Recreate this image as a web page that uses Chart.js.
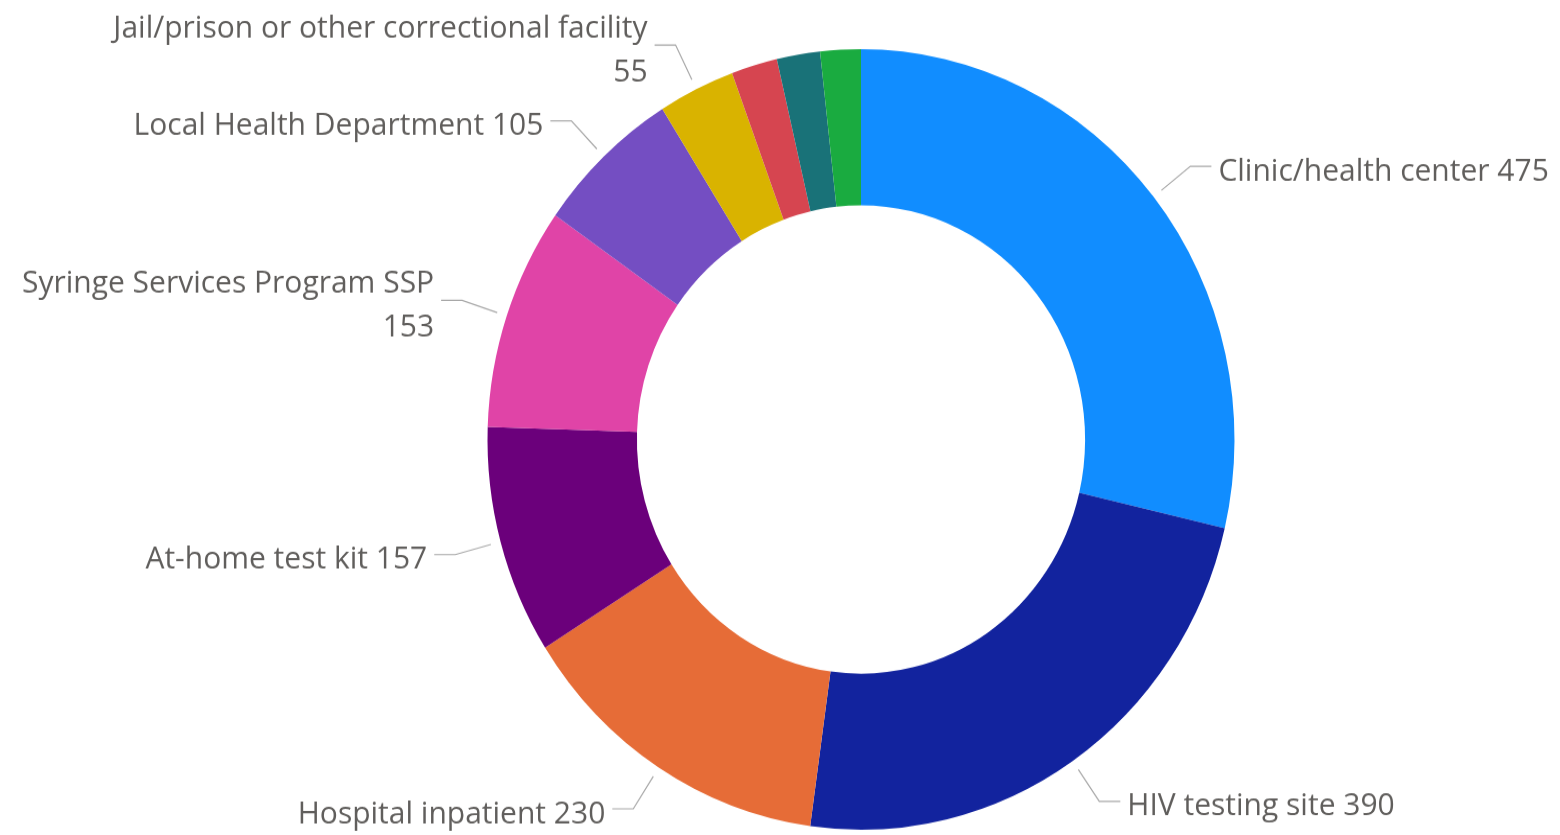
<!DOCTYPE html>
<html>
<head>
<meta charset="utf-8">
<script src="https://cdn.jsdelivr.net/npm/chart.js@4"></script>
<style>
  html, body { margin: 0; padding: 0; background: #fff; overflow: hidden; }
  #wrap { width: 1560px; height: 835px; }
  #donut { display: block; transform: scaleY(1.045); transform-origin: 0 0; }
</style>
</head>
<body>
<div id="wrap"><canvas id="donut" width="1560" height="799"></canvas></div>
<script>
const categories = [
  "Clinic/health center",
  "HIV testing site",
  "Hospital inpatient",
  "At-home test kit",
  "Syringe Services Program SSP",
  "Local Health Department",
  "Jail/prison or other correctional facility",
  "Emergency department",
  "Other",
  "Unknown"
];
const counts = [475, 390, 230, 157, 153, 105, 55, 33, 31, 29];
const sliceColors = [
  "#118DFF", "#12239E", "#E66C37", "#6B007B", "#E044A7",
  "#744EC2", "#D9B300", "#D64550", "#197278", "#1AAB40"
];

// Leader line + label plugin (Power BI style outside labels)
const outsideLabels = {
  id: "outsideLabels",
  afterDraw(chart) {
    const ctx = chart.ctx;
    const meta = chart.getDatasetMeta(0);
    const font = "30px 'Open Sans', 'Segoe UI', sans-serif";
    const lineH = 42;
    const maxW = 460;
    ctx.save();
    ctx.font = font;
    meta.data.forEach((arc, i) => {
      const value = counts[i];
      if (value < 50) return;
      const p = arc.getProps(["x", "y", "startAngle", "endAngle", "outerRadius"], true);
      const mid = (p.startAngle + p.endAngle) / 2;
      const cos = Math.cos(mid), sin = Math.sin(mid);
      const r1 = p.outerRadius + 10;
      const r2 = p.outerRadius + 47;
      const x1 = p.x + cos * r1, y1 = p.y + sin * r1;
      const x2 = p.x + cos * r2, y2 = p.y + sin * r2;
      const right = cos >= 0;
      const x3 = x2 + (right ? 21 : -21);

      ctx.strokeStyle = "#A8A8A8";
      ctx.lineWidth = 1.2;
      ctx.beginPath();
      ctx.moveTo(x1, y1);
      ctx.lineTo(x2, y2);
      ctx.lineTo(x3, y2);
      ctx.stroke();

      const full = categories[i] + " " + value;
      let lines = [full];
      if (ctx.measureText(full).width > maxW) lines = [categories[i], String(value)];
      const tx = x3 + (right ? 7 : -7);
      ctx.fillStyle = "#605E5C";
      ctx.textAlign = right ? "left" : "right";
      ctx.textBaseline = "middle";
      const y0 = y2 + 5 - (lines.length - 1) * lineH / 2;
      lines.forEach((t, k) => ctx.fillText(t, tx, y0 + k * lineH));
    });
    ctx.restore();
  }
};

new Chart(document.getElementById("donut"), {
  type: "doughnut",
  data: {
    labels: categories,
    datasets: [{
      data: counts,
      backgroundColor: sliceColors,
      borderWidth: 0
    }]
  },
  options: {
    responsive: false,
    animation: false,
    cutout: "60%",
    layout: { padding: { left: 487, right: 325, top: 47, bottom: 5 } },
    plugins: {
      legend: { display: false },
      tooltip: { enabled: false }
    }
  },
  plugins: [outsideLabels]
});
</script>
</body>
</html>
